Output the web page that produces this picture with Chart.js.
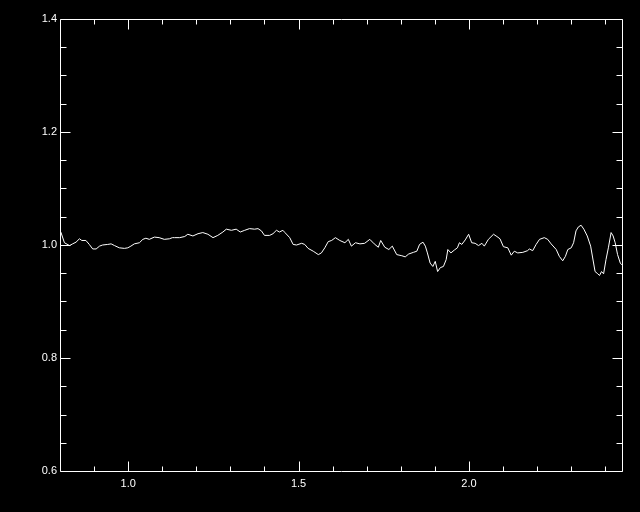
<!DOCTYPE html>
<html>
<head>
<meta charset="utf-8">
<script src="https://cdn.jsdelivr.net/npm/chart.js@4/dist/chart.umd.min.js"></script>
<style>
html,body{margin:0;padding:0;background:#000;}
canvas{display:block;}
</style>
</head>
<body>
<canvas id="c" width="640" height="512"></canvas>
<script>
const xValues = [0.800,0.803,0.813,0.828,0.837,0.847,0.857,0.864,0.876,0.886,0.896,0.906,0.916,0.925,0.940,0.950,0.960,0.974,0.989,0.999,
1.008,1.018,1.033,1.043,1.052,1.062,1.077,1.091,1.106,1.121,1.130,1.136,1.151,1.166,1.175,1.190,1.205,1.219,1.234,1.249,
1.263,1.278,1.288,1.303,1.317,1.329,1.342,1.356,1.371,1.381,1.391,1.400,1.415,1.425,1.435,1.444,1.454,1.460,1.474,1.484,
1.494,1.509,1.518,1.528,1.543,1.558,1.567,1.577,1.587,1.597,1.608,1.621,1.636,1.646,1.655,1.667,1.680,1.694,1.709,1.722,
1.734,1.741,1.753,1.765,1.775,1.788,1.803,1.813,1.823,1.837,1.847,1.855,1.865,1.872,1.878,1.886,1.894,1.901,1.908,1.916,
1.925,1.933,1.938,1.947,1.957,1.966,1.972,1.979,1.989,1.999,2.008,2.018,2.028,2.038,2.045,2.057,2.072,2.082,2.091,2.101,
2.114,2.124,2.133,2.143,2.158,2.172,2.177,2.187,2.197,2.207,2.221,2.231,2.241,2.256,2.265,2.275,2.283,2.290,2.300,2.307,
2.314,2.321,2.329,2.337,2.347,2.357,2.363,2.370,2.378,2.383,2.389,2.395,2.402,2.409,2.417,2.423,2.429,2.436,2.444,2.448];
const yValues = [1.025,1.022,1.004,0.999,1.002,1.005,1.011,1.008,1.008,1.001,0.993,0.993,0.998,1.000,1.001,1.002,0.999,0.995,0.994,0.995,
0.998,1.002,1.004,1.010,1.012,1.010,1.014,1.013,1.010,1.011,1.013,1.013,1.013,1.015,1.019,1.016,1.020,1.022,1.019,1.013,
1.017,1.023,1.028,1.026,1.028,1.023,1.026,1.029,1.028,1.029,1.025,1.017,1.017,1.020,1.026,1.023,1.026,1.022,1.013,1.001,
1.000,1.003,1.001,0.994,0.989,0.983,0.986,0.995,1.006,1.008,1.013,1.008,1.004,1.010,0.998,1.004,1.002,1.003,1.010,1.002,
0.996,1.008,0.996,0.992,0.998,0.983,0.981,0.979,0.984,0.987,0.989,1.001,1.005,0.998,0.986,0.968,0.962,0.971,0.953,0.960,
0.962,0.974,0.992,0.986,0.991,0.995,1.004,1.001,1.009,1.019,1.004,1.003,0.999,1.003,0.998,1.010,1.019,1.015,1.011,0.997,
0.995,0.982,0.989,0.986,0.987,0.990,0.993,0.990,1.001,1.010,1.013,1.010,1.002,0.992,0.980,0.972,0.980,0.992,0.995,1.004,
1.025,1.032,1.035,1.028,1.016,0.998,0.977,0.953,0.949,0.946,0.953,0.949,0.974,0.995,1.022,1.016,1.004,0.983,0.968,0.965];

const xMajorTicks = [1.0, 1.5, 2.0];
const xMinorTicks = [0.9,1.1,1.2,1.3,1.4,1.6,1.7,1.8,1.9,2.1,2.2,2.3,2.4];
const yMajorTicks = [0.6, 0.8, 1.0, 1.2, 1.4];
const yMinorTicks = [0.65,0.7,0.75,0.85,0.9,0.95,1.05,1.1,1.15,1.25,1.3,1.35];

const points = xValues.map((x, i) => ({x: x, y: yValues[i]}));

const idlAxes = {
  id: 'idlAxes',
  beforeDraw(chart) {
    const ctx = chart.ctx;
    ctx.save();
    ctx.fillStyle = '#000';
    ctx.fillRect(0, 0, chart.width, chart.height);
    ctx.restore();
  },
  afterDraw(chart) {
    const ctx = chart.ctx;
    const a = chart.chartArea;
    const xs = chart.scales.x, ys = chart.scales.y;
    const L = a.left + 0.5, R = a.right + 0.5, T = a.top + 0.5, B = a.bottom + 0.5;
    ctx.save();
    ctx.strokeStyle = '#fff';
    ctx.lineWidth = 1;
    ctx.beginPath();
    ctx.moveTo(L, T); ctx.lineTo(R, T); ctx.lineTo(R, B); ctx.lineTo(L, B); ctx.closePath();
    const xt = (v, len) => {
      const p = Math.round(xs.getPixelForValue(v)) + 0.5;
      ctx.moveTo(p, B); ctx.lineTo(p, B - len);
      ctx.moveTo(p, T); ctx.lineTo(p, T + len);
    };
    const yt = (v, len) => {
      const p = Math.round(ys.getPixelForValue(v)) + 0.5;
      ctx.moveTo(L, p); ctx.lineTo(L + len, p);
      ctx.moveTo(R, p); ctx.lineTo(R - len, p);
    };
    xMajorTicks.forEach(v => xt(v, 10));
    xMinorTicks.forEach(v => xt(v, 5));
    yMajorTicks.forEach(v => yt(v, 10));
    yMinorTicks.forEach(v => yt(v, 6));
    ctx.stroke();
    ctx.restore();
  }
};

const font = {family: "'Liberation Sans', Arial, sans-serif", size: 11};

new Chart(document.getElementById('c'), {
  type: 'line',
  data: {
    datasets: [{
      data: points,
      borderColor: '#ffffff',
      borderWidth: 1,
      pointRadius: 0,
      tension: 0,
      fill: false
    }]
  },
  options: {
    responsive: false,
    animation: false,
    events: [],
    layout: {padding: {top: 19, right: 18, left: 0, bottom: 0}},
    plugins: {legend: {display: false}, tooltip: {enabled: false}},
    scales: {
      x: {
        type: 'linear',
        min: 0.8,
        max: 2.449,
        grid: {display: false, drawTicks: false},
        border: {display: false},
        ticks: {color: '#fff', font: font, padding: 6, maxRotation: 0, autoSkip: false,
                callback: v => v.toFixed(1)},
        afterBuildTicks: s => { s.ticks = xMajorTicks.map(v => ({value: v})); },
        afterFit: s => { s.height = 41; }
      },
      y: {
        type: 'linear',
        min: 0.6,
        max: 1.4,
        grid: {display: false, drawTicks: false},
        border: {display: false},
        ticks: {color: '#fff', font: font, padding: 3, autoSkip: false,
                callback: v => v.toFixed(1)},
        afterBuildTicks: s => { s.ticks = yMajorTicks.map(v => ({value: v})); },
        afterFit: s => { s.width = 60; }
      }
    }
  },
  plugins: [idlAxes]
});
</script>
</body>
</html>
